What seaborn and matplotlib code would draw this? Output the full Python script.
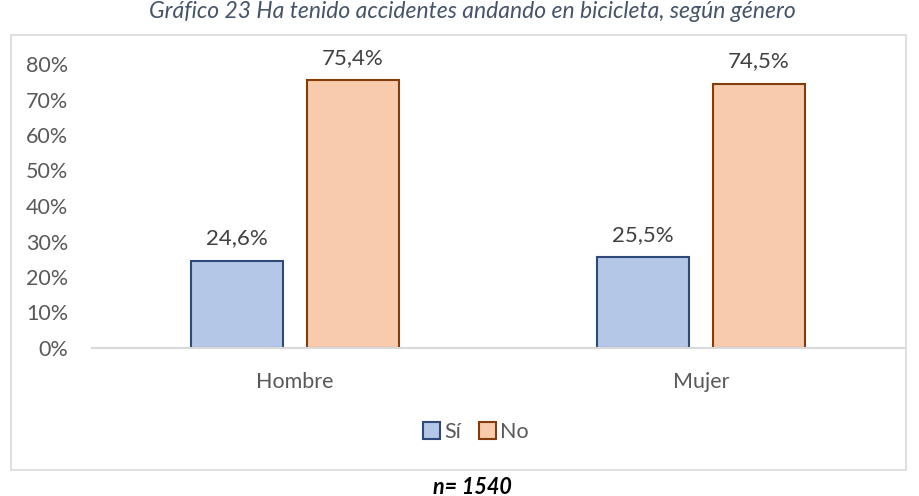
import numpy as np
import pandas as pd
import matplotlib
matplotlib.use("Agg")
import matplotlib.pyplot as plt
import matplotlib.patches as mpatches
import seaborn as sns

# data
generos = ["Hombre", "Mujer"]
respuestas = ["Sí", "No"]
si_vals = [0.246, 0.255]
no_vals = [0.754, 0.745]
yticks = [0.0, 0.1, 0.2, 0.3, 0.4, 0.5, 0.6, 0.7, 0.8]

fill_colors = {"Sí": "#B4C7E7", "No": "#F8CBAD"}
edge_colors = {"Sí": "#2F4A7A", "No": "#843C0C"}

df = pd.DataFrame({
    "genero": generos * 2,
    "respuesta": ["Sí"] * len(generos) + ["No"] * len(generos),
    "valor": si_vals + no_vals,
})

sns.set_style("white")
plt.rcParams["font.family"] = ["Lato", "DejaVu Sans"]

fig = plt.figure(figsize=(9.2, 4.96), dpi=100)
ax = fig.add_axes([92 / 920, 1 - 348 / 496, 812 / 920, 284 / 496])

sns.barplot(
    data=df, x="genero", y="valor", hue="respuesta",
    order=generos, hue_order=respuestas,
    palette=fill_colors, saturation=1, width=0.571, gap=0.207,
    linewidth=1.5, ax=ax, legend=False,
)

for cont, resp in zip(ax.containers, respuestas):
    for bar in cont:
        bar.set_edgecolor(edge_colors[resp])
        bar.set_linewidth(1.5)
    vals = [bar.get_height() for bar in cont]
    ax.bar_label(
        cont, labels=[f"{v * 100:.1f}%".replace(".", ",") for v in vals],
        padding=9, fontsize=16, color="#404040",
    )

ax.set_ylim(0, 0.8)
ax.set_yticks(yticks)
ax.set_yticklabels([f"{int(round(t * 100))}%" for t in yticks])
ax.tick_params(axis="y", length=0, labelsize=15.5, labelcolor="#595959", pad=17)
ax.tick_params(axis="x", length=0, labelsize=15.5, labelcolor="#595959", pad=17)
ax.set_xlabel("")
ax.set_ylabel("")
for side in ["top", "right", "left"]:
    ax.spines[side].set_visible(False)
ax.spines["bottom"].set_color("#D9D9D9")
ax.spines["bottom"].set_linewidth(1.5)
ax.set_xlim(-0.5, 1.5)

# chart border
fig.patches.append(mpatches.Rectangle(
    (11 / 920, 1 - 470 / 496), (906 - 11) / 920, (470 - 35) / 496,
    transform=fig.transFigure, fill=False, edgecolor="#D9D9D9", linewidth=1.2,
))

handles = [
    mpatches.Patch(facecolor=fill_colors[r], edgecolor=edge_colors[r],
                   linewidth=1.5, label=r)
    for r in respuestas
]
fig.legend(
    handles=handles, loc="center", bbox_to_anchor=(476 / 920, 1 - 432 / 496),
    ncol=2, frameon=False, fontsize=15.5, labelcolor="#595959",
    handlelength=0.8, handleheight=0.8, handletextpad=0.2, columnspacing=0.8,
)

fig.text(
    472 / 920, 1 - 11 / 496,
    "Gráfico 23 Ha tenido accidentes andando en bicicleta, según género",
    ha="center", va="center", fontsize=16.5, fontstyle="italic", color="#44546A",
)
fig.text(
    472 / 920, 1 - 487 / 496, "n= 1540",
    ha="center", va="center", fontsize=15.5, fontstyle="italic",
    fontweight="bold", color="black",
)

fig.savefig("out.png", dpi=100)
